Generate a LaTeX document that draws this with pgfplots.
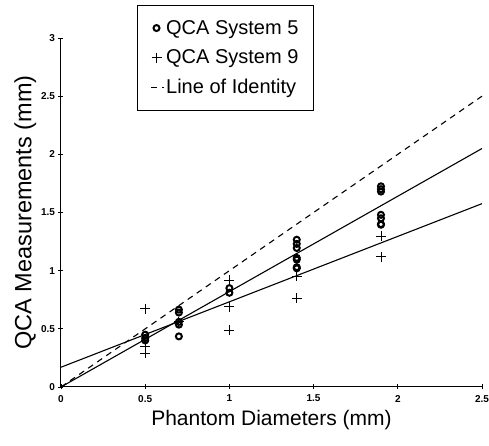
\documentclass[border=0pt]{standalone}
\usepackage{pgfplots}
\pgfplotsset{compat=1.18}
\usepackage{fontspec}
\setmainfont{Liberation Sans}
\pgfplotsset{
  shortline legend/.style={
    legend image code/.code={\draw[##1] (0.1cm,0cm) -- (0.55cm,0cm);}}
}
\begin{document}
\begin{tikzpicture}
\begin{axis}[
  scale only axis,
  width=421pt, height=349pt,
  xmin=0, xmax=2.5, ymin=0, ymax=3,
  axis lines=left,
  axis line style={-, line width=1pt},
  xtick={0,0.5,1,1.5,2,2.5},
  ytick={0,0.5,1,1.5,2,2.5,3},
  xticklabels={0,0.5,1,1.5,2,2.5},
  yticklabels={0,0.5,1,1.5,2,2.5,3},
  tick style={black, line width=0.8pt},
  major tick length=5pt,
  tick label style={font=\fontsize{10}{11}\selectfont\bfseries},
  xticklabel style={yshift=-2pt},
  xlabel={Phantom Diameters (mm)},
  ylabel={QCA Measurements (mm)},
  xlabel style={font=\fontsize{21}{23}\selectfont, yshift=-1pt},
  ylabel style={font=\fontsize{23.5}{25}\selectfont, yshift=-2pt},
  clip=false,
  legend style={at={(rel axis cs:0.18,1.095)}, anchor=north west,
    draw=black, line width=1pt, font=\fontsize{20}{22}\selectfont,
    row sep=10pt, inner xsep=13pt, inner ysep=13pt},
  legend cell align=left,
]
% System 5 points
\addplot[only marks, mark=o, mark size=3pt, line width=2pt, black]
coordinates {
(0.5,0.45)(0.5,0.42)(0.5,0.40)
(0.7,0.665)(0.7,0.64)(0.7,0.56)(0.7,0.536)(0.7,0.435)
(1.0,0.85)(1.0,0.81)
(1.4,1.266)(1.4,1.23)(1.4,1.195)(1.4,1.11)(1.4,1.095)(1.4,1.03)(1.4,1.02)
(1.9,1.725)(1.9,1.70)(1.9,1.68)(1.9,1.48)(1.9,1.45)(1.9,1.40)(1.9,1.395)
};
\addlegendentry{QCA System 5}
% System 9 points
\addplot[only marks, mark=+, mark size=5pt, line width=0.9pt, black]
coordinates {
(0.5,0.673)(0.5,0.35)(0.5,0.29)
(0.7,0.56)
(1.0,0.92)(1.0,0.69)(1.0,0.49)
(1.4,0.765)(1.4,0.95)
(1.9,1.295)(1.9,1.12)
};
\addlegendentry{QCA System 9}
% identity
\addplot[black, line width=1.1pt, dash pattern=on 6pt off 5pt, shortline legend]
  coordinates {(0,0)(2.5,2.5)};
\addlegendentry{Line of Identity}
% regressions
\addplot[black, line width=1.1pt, forget plot] coordinates {(0,0.0)(2.5,2.05)};
\addplot[black, line width=1.1pt, forget plot] coordinates {(0,0.17)(2.5,1.576)};
\end{axis}
\pgfresetboundingbox
\path[use as bounding box] (-61pt,-59pt) rectangle (428pt,387pt);
\end{tikzpicture}
\end{document}
